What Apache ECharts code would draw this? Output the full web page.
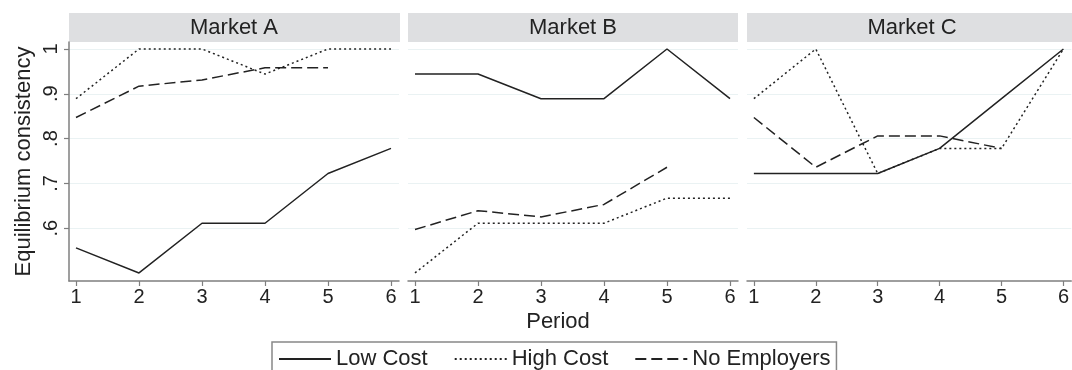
<!DOCTYPE html>
<html lang="en">
<head>
	<meta charset="UTF-8">
	<title>Equilibrium consistency</title>
	<script src="https://cdn.jsdelivr.net/npm/echarts@6/dist/echarts.min.js"></script>
	<style>
		* { margin: 0; padding: 0; }
		body, html, #main { width: 1072px; height: 370px; background: #fff; }
	</style>
</head>
<body>
	<div id="main"></div>
	<script>
		const periods = [1, 2, 3, 4, 5, 6];
		const markets = ['Market A', 'Market B', 'Market C'];
		const seriesNames = ['Low Cost', 'High Cost', 'No Employers'];
		const yTicks = [0.6, 0.7, 0.8, 0.9, 1];

		// one array per market and treatment, null = no observation
		const lowCost = [
			[0.556, 0.5, 0.611, 0.611, 0.722, 0.778],
			[0.944, 0.944, 0.889, 0.889, 1, 0.889],
			[0.722, 0.722, 0.722, 0.778, 0.889, 1]
		];
		const highCost = [
			[0.889, 1, 1, 0.944, 1, 1],
			[0.5, 0.611, 0.611, 0.611, 0.667, 0.667],
			[0.889, 1, 0.722, 0.778, 0.778, 1]
		];
		const noEmployers = [
			[0.847, 0.917, 0.931, 0.958, 0.958, null],
			[0.597, 0.639, 0.625, 0.653, 0.736, null],
			[0.847, 0.736, 0.806, 0.806, 0.778, null]
		];

		const chart = echarts.init(document.getElementById('main'));

		const gridLefts = [69, 408, 747];
		const gridW = 330;
		const gridTop = 42, gridH = 239;
		const ink = '#222';
		const font = 'Liberation Sans, Arial, sans-serif';

		const styles = [
			{ type: 'solid' },
			{ type: [2, 3] },
			{ type: [11, 5] }
		];
		const allData = [lowCost, highCost, noEmployers];

		const grids = [], xAxes = [], yAxes = [], series = [], graphics = [];
		markets.forEach((m, i) => {
			grids.push({ left: gridLefts[i], top: gridTop, width: gridW, height: gridH });
			xAxes.push({
				type: 'value', gridIndex: i, min: 0.889, max: 6.127,
				axisLine: { show: true, lineStyle: { color: '#7f7f7f', width: 1.5 } },
				axisTick: { show: true, length: 5, customValues: periods, lineStyle: { color: '#7f7f7f', width: 1.2 } },
				axisLabel: { customValues: periods, fontSize: 20, color: ink, fontFamily: font, margin: 6 },
				splitLine: { show: false }
			});
			yAxes.push({
				type: 'value', gridIndex: i, min: 0.482, max: 1.0156,
				name: i === 0 ? 'Equilibrium consistency' : '',
				nameLocation: 'middle', nameGap: 34,
				nameTextStyle: { fontSize: 22, color: ink, fontFamily: font },
				axisLine: { show: i === 0, lineStyle: { color: '#7f7f7f', width: 1.5 } },
				axisTick: { show: i === 0, length: 5, customValues: yTicks, lineStyle: { color: '#7f7f7f', width: 1.2 } },
				axisLabel: {
					show: i === 0, customValues: yTicks, rotate: 90, fontSize: 20, color: ink,
					fontFamily: font, margin: 8,
					formatter: v => v === 1 ? '1' : '.' + Math.round(v * 10)
				},
				splitLine: { show: true, lineStyle: { color: '#eaf2f3', width: 1.2 } }
			});
			seriesNames.forEach((name, k) => {
				series.push({
					name: name, type: 'line', xAxisIndex: i, yAxisIndex: i,
					data: periods.map((p, j) => [p, allData[k][i][j]]),
					symbol: 'none', connectNulls: false, animation: false,
					lineStyle: Object.assign({ color: ink, width: 1.5 }, styles[k]),
					itemStyle: { color: ink }
				});
			});
			graphics.push({
				type: 'rect', left: gridLefts[i], top: 13,
				shape: { width: i === 0 ? 331 : gridW, height: 29 },
				style: { fill: '#dedfe1' }
			});
			graphics.push({
				type: 'text', x: gridLefts[i] + gridW / 2, y: 28,
				style: { text: m, fontSize: 22, fill: ink, fontFamily: font, align: 'center', verticalAlign: 'middle' }
			});
		});
		graphics.push({
			type: 'text', x: 558, y: 322,
			style: { text: 'Period', fontSize: 22, fill: ink, fontFamily: font, align: 'center', verticalAlign: 'middle' }
		});

		const option = {
			backgroundColor: '#fff',
			animation: false,
			grid: grids,
			xAxis: xAxes,
			yAxis: yAxes,
			series: series,
			graphic: graphics,
			legend: {
				data: seriesNames,
				left: 272, top: 342,
				itemWidth: 52, itemHeight: 14, itemGap: 26,
				padding: [6, 6, 12, 6],
				borderColor: '#888', borderWidth: 1.5, borderRadius: 0,
				itemStyle: { color: 'rgba(0,0,0,0)', borderWidth: 0, opacity: 0 },
				textStyle: { fontSize: 22, color: ink, fontFamily: font },
				selectedMode: false
			}
		};
		chart.setOption(option);
	</script>
</body>
</html>
